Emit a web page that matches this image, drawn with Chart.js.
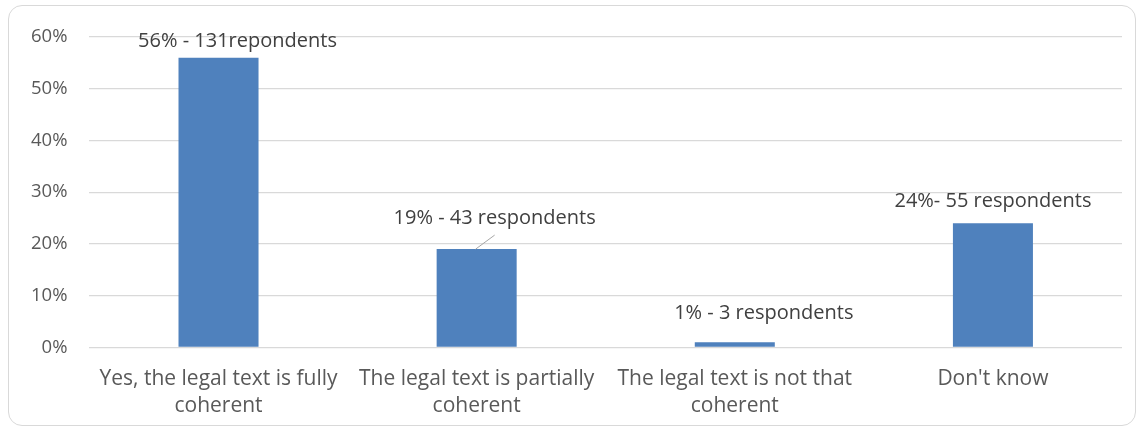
<!DOCTYPE html>
<html>
<head>
<meta charset="utf-8">
<script src="https://cdn.jsdelivr.net/npm/chart.js@4/dist/chart.umd.min.js"></script>
<style>
    html, body { margin: 0; padding: 0; background: #ffffff; overflow: hidden; }
    #frame {
        position: absolute;
        left: 8px; top: 5px;
        width: 1126px; height: 419px;
        border: 1.5px solid #d9d9d9;
        border-radius: 14px;
    }
    #wrap { position: absolute; left: 0; top: 0; width: 1143px; height: 438px; }
</style>
</head>
<body>
<div id="frame"></div>
<div id="wrap"><canvas id="coherenceChart"></canvas></div>
<script>
// Survey answers
const categories = [
    ['Yes, the legal text is fully', 'coherent'],
    ['The legal text is partially', 'coherent'],
    ['The legal text is not that', 'coherent'],
    "Don't know"
];
const shares = [56, 19, 1, 24];
const barLabels = [
    '56% - 131repondents',
    '19% - 43 respondents',
    '1% - 3 respondents',
    '24%- 55 respondents'
];
const yTicks = [0, 10, 20, 30, 40, 50, 60];

const FONT = '"Open Sans", "Noto Sans", sans-serif';

// Labels sit above each bar, nudged where they'd collide; index 1 gets a leader line
const labelOffsets = [[19, -16], [18, -31], [29, -29], [0, -22]];

const barLabelPlugin = {
    id: 'barLabels',
    afterDatasetsDraw(chart) {
        const ctx = chart.ctx;
        const meta = chart.getDatasetMeta(0);
        ctx.save();
        ctx.font = '20px ' + FONT;
        ctx.fillStyle = '#404040';
        ctx.textAlign = 'center';
        ctx.textBaseline = 'middle';
        meta.data.forEach((bar, i) => {
            const [dx, dy] = labelOffsets[i];
            const x = bar.x + dx;
            const y = bar.y + dy;
            ctx.fillText(barLabels[i], x, y);
            if (i === 1) {
                ctx.strokeStyle = '#a6a6a6';
                ctx.lineWidth = 1;
                ctx.beginPath();
                ctx.moveTo(bar.x - 1, bar.y);
                ctx.lineTo(x, y + 17);
                ctx.stroke();
            }
        });
        ctx.restore();
    }
};

const ctx = document.getElementById('coherenceChart').getContext('2d');
new Chart(ctx, {
    type: 'bar',
    data: {
        labels: categories,
        datasets: [{
            data: shares,
            backgroundColor: '#4f81bd',
            borderWidth: 0,
            categoryPercentage: 1,
            barPercentage: 0.31
        }]
    },
    options: {
        responsive: true,
        maintainAspectRatio: false,
        animation: false,
        layout: { padding: { left: 9, right: 21, top: 37, bottom: 0 } },
        plugins: {
            legend: { display: false },
            tooltip: { enabled: false }
        },
        scales: {
            x: {
                grid: { display: false, drawTicks: false },
                border: { display: false },
                ticks: {
                    color: '#595959',
                    font: { family: FONT, size: 21, lineHeight: 1.3 },
                    padding: 18,
                    maxRotation: 0,
                    autoSkip: false
                }
            },
            y: {
                min: 0,
                max: 60,
                afterBuildTicks(axis) {
                    axis.ticks = yTicks.map(v => ({ value: v }));
                },
                grid: { color: '#d9d9d9', lineWidth: 1.3, drawTicks: false },
                border: { display: false },
                ticks: {
                    color: '#595959',
                    font: { family: FONT, size: 18.5 },
                    padding: 22,
                    callback: v => v + '%'
                }
            }
        }
    },
    plugins: [barLabelPlugin]
});
</script>
</body>
</html>
